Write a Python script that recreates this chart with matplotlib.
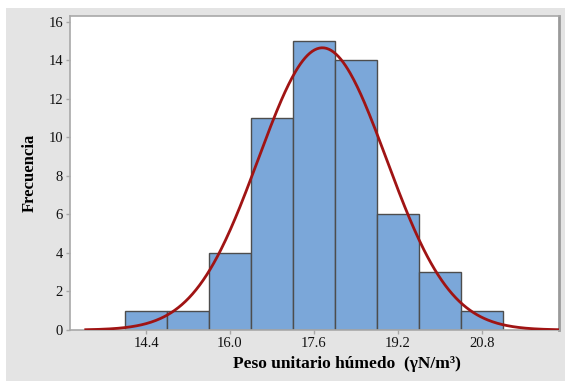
import matplotlib.pyplot as plt
from matplotlib.patches import Rectangle
import numpy as np

# histogram of wet unit weight, bins of 0.8 centred on these values
bin_centres = [14.4, 15.2, 16.0, 16.8, 17.6, 18.4, 19.2, 20.0, 20.8]
frequency = [1, 1, 4, 11, 15, 14, 6, 3, 1]
bin_width = 0.8

# fitted normal curve parameters
fit_mean = 17.76
fit_sd = 1.22
n_samples = sum(frequency)

x_ticks = [14.4, 16.0, 17.6, 19.2, 20.8]
y_ticks = [0, 2, 4, 6, 8, 10, 12, 14, 16]

plt.rcParams['font.family'] = ['Liberation Serif', 'DejaVu Serif']

fig = plt.figure(figsize=(5.65, 3.81), dpi=100)
fig.patch.set_facecolor('white')
fig.patches.append(Rectangle((6 / 565, 0), 1, 1 - 8 / 381, transform=fig.transFigure,
                             facecolor='#e4e4e4', edgecolor='none', zorder=-1))

ax = fig.add_axes([70 / 565, 51 / 381, 489 / 565, 314 / 381])
ax.set_facecolor('white')

ax.bar(bin_centres, frequency, width=bin_width, color='#7ba7d9',
       edgecolor='#4d4d4d', linewidth=1.0, zorder=2)

xs = np.linspace(13.25, 22.27, 400)
pdf = np.exp(-0.5 * ((xs - fit_mean) / fit_sd) ** 2) / (fit_sd * np.sqrt(2 * np.pi))
ax.plot(xs, pdf * n_samples * bin_width, color='#a01414', linewidth=2.0, zorder=3)

ax.set_xlim(12.95, 22.27)
ax.set_ylim(0, 16.3)
ax.set_xticks(x_ticks)
ax.set_xticklabels([f'{v:.1f}' for v in x_ticks])
ax.set_yticks(y_ticks)

for side in ['left', 'bottom', 'top']:
    ax.spines[side].set_color('#a8a8a8')
    ax.spines[side].set_linewidth(1.2)
ax.spines['right'].set_color('#9a9a9a')
ax.spines['right'].set_linewidth(2.0)

ax.tick_params(axis='both', colors='#a8a8a8', labelcolor='#111111',
               length=3, width=1, labelsize=10.5, pad=2)

ax.set_ylabel('Frecuencia', fontsize=12, fontweight='bold')
ax.yaxis.set_label_coords(-0.066, 0.5)
ax.set_xlabel('Peso unitario húmedo  (γN/m³)', fontsize=12.5, fontweight='bold')
ax.xaxis.set_label_coords(0.566, -0.084)

fig.savefig('out.png', dpi=100)
